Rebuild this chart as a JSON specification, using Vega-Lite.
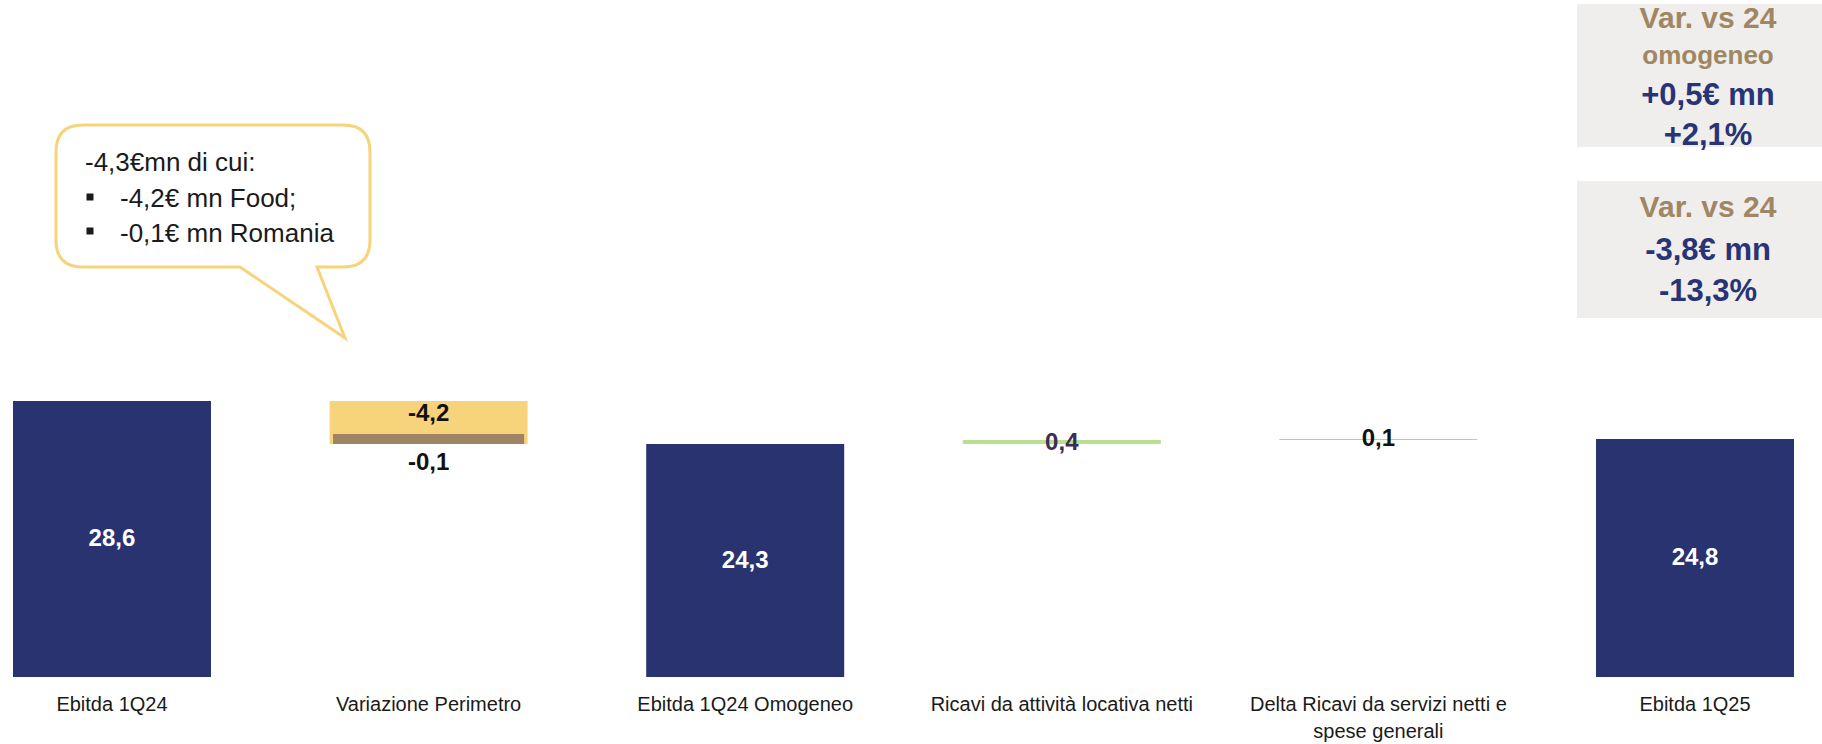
{
  "$schema": "https://vega.github.io/schema/vega-lite/v6.json",
  "width": 1807,
  "height": 677,
  "autosize": {"type": "none"},
  "padding": {"left": 0, "top": 0, "right": 15, "bottom": 67},
  "background": "#ffffff",
  "config": {"view": {"stroke": null}, "font": "Liberation Sans"},
  "datasets": {
    "bars": [
      {"cat": "Ebitda 1Q24", "start": 0, "end": 28.6, "kind": "totale", "label": "28,6"},
      {"cat": "Variazione Perimetro", "start": 28.6, "end": 24.3, "kind": "perimetro", "label": "-4,2"},
      {"cat": "Ebitda 1Q24 Omogeneo", "start": 0, "end": 24.3, "kind": "totale", "label": "24,3"},
      {"cat": "Ricavi da attività locativa netti", "start": 24.3, "end": 24.7, "kind": "locativa", "label": "0,4"},
      {"cat": "Delta Ricavi da servizi netti e spese generali", "start": 24.7, "end": 24.8, "kind": "servizi", "label": "0,1"},
      {"cat": "Ebitda 1Q25", "start": 0, "end": 24.8, "kind": "totale", "label": "24,8"}
    ],
    "romania": [
      {"cat": "Variazione Perimetro", "start": 24.3, "end": 25.3, "kind": "romania"}
    ],
    "one": [{}]
  },
  "layer": [
    {
      "data": {"name": "one"},
      "mark": {"type": "bar", "width": 245, "xOffset": 4.5, "color": "#EFEEEC"},
      "encoding": {
        "x": {"datum": "Ebitda 1Q25", "type": "nominal"},
        "y": {"datum": 68.3, "type": "quantitative", "axis": null},
        "y2": {"datum": 54.0}
      }
    },
    {
      "data": {"name": "one"},
      "mark": {"type": "bar", "width": 245, "xOffset": 4.5, "color": "#EFEEEC"},
      "encoding": {
        "x": {"datum": "Ebitda 1Q25", "type": "nominal"},
        "y": {"datum": 50.6, "type": "quantitative", "axis": null},
        "y2": {"datum": 36.9}
      }
    },
    {
      "data": {"name": "bars"},
      "mark": {"type": "bar"},
      "encoding": {
        "x": {
          "field": "cat", "type": "nominal", "sort": null, "title": null,
          "scale": {
            "domain": ["Ebitda 1Q24", "Variazione Perimetro", "Ebitda 1Q24 Omogeneo", "Ricavi da attività locativa netti", "Delta Ricavi da servizi netti e spese generali", "Ebitda 1Q25"],
            "paddingInner": 0.3746, "paddingOuter": 0.041
          },
          "axis": {
            "title": null, "domain": false, "ticks": false, "tickSize": 0, "grid": false,
            "bandPosition": 0.5, "labelAlign": "center", "labelBaseline": "top",
            "labelPadding": 17, "labelFontSize": 20, "labelColor": "#1a1a1a", "labelFont": "Liberation Sans",
            "labelAngle": 0, "labelLimit": 500, "labelLineHeight": 27, "labelOverlap": false,
            "labelExpr": "datum.value == 'Delta Ricavi da servizi netti e spese generali' ? ['Delta Ricavi da servizi netti e', 'spese generali'] : datum.label"
          }
        },
        "y": {"field": "end", "type": "quantitative", "scale": {"domain": [1, 68.7], "clamp": true, "nice": false, "zero": false}, "axis": null},
        "y2": {"field": "start"},
        "color": {
          "field": "kind", "type": "nominal", "legend": null,
          "scale": {"domain": ["totale", "perimetro", "locativa", "servizi", "romania"], "range": ["#283370", "#F7D37B", "#B8E090", "#A9D98B", "#9E8462"]}
        }
      }
    },
    {
      "data": {"name": "romania"},
      "mark": {"type": "bar", "width": {"band": 0.965}},
      "encoding": {
        "x": {"field": "cat", "type": "nominal", "title": null},
        "y": {"field": "end", "type": "quantitative", "axis": null},
        "y2": {"field": "start"},
        "color": {"field": "kind", "type": "nominal", "legend": null}
      }
    },
    {
      "data": {"name": "bars"},
      "transform": [
        {"filter": "datum.kind == 'totale'"},
        {"calculate": "(datum.end + 1) / 2", "as": "mid"}
      ],
      "mark": {"type": "text", "color": "#ffffff", "fontWeight": "bold", "fontSize": 24, "baseline": "middle", "align": "center"},
      "encoding": {
        "x": {"field": "cat", "type": "nominal", "title": null},
        "y": {"field": "mid", "type": "quantitative", "axis": null},
        "text": {"field": "label"}
      }
    },
    {
      "data": {"name": "one"},
      "mark": {"type": "text", "text": "-4,2", "color": "#111111", "fontWeight": "bold", "fontSize": 24, "baseline": "middle", "align": "center"},
      "encoding": {
        "x": {"datum": "Variazione Perimetro", "type": "nominal"},
        "y": {"datum": 27.3, "type": "quantitative", "axis": null}
      }
    },
    {
      "data": {"name": "one"},
      "mark": {"type": "text", "text": "-0,1", "color": "#111111", "fontWeight": "bold", "fontSize": 24, "baseline": "middle", "align": "center"},
      "encoding": {
        "x": {"datum": "Variazione Perimetro", "type": "nominal"},
        "y": {"datum": 22.45, "type": "quantitative", "axis": null}
      }
    },
    {
      "data": {"name": "one"},
      "mark": {"type": "text", "text": "0,4", "color": "#3B2D55", "fontWeight": "bold", "fontSize": 24, "baseline": "middle", "align": "center"},
      "encoding": {
        "x": {"datum": "Ricavi da attività locativa netti", "type": "nominal"},
        "y": {"datum": 24.45, "type": "quantitative", "axis": null}
      }
    },
    {
      "data": {"name": "one"},
      "mark": {"type": "text", "text": "0,1", "color": "#111111", "fontWeight": "bold", "fontSize": 24, "baseline": "middle", "align": "center"},
      "encoding": {
        "x": {"datum": "Delta Ricavi da servizi netti e spese generali", "type": "nominal"},
        "y": {"datum": 24.8, "type": "quantitative", "axis": null}
      }
    },
    {
      "data": {"name": "one"},
      "mark": {
        "type": "point", "filled": true, "opacity": 1, "fill": "#ffffff", "fillOpacity": 1,
        "stroke": "#F7D37B", "strokeWidth": 3, "size": 4,
        "shape": "M -29 -62 L 231 -62 Q 258 -62 258 -35 L 258 53 Q 258 80 231 80 L 205 80 L 233 151 L 128 80 L -29 80 Q -56 80 -56 53 L -56 -35 Q -56 -62 -29 -62 Z"
      },
      "encoding": {
        "x": {"datum": "Ebitda 1Q24", "type": "nominal"},
        "y": {"datum": 50, "type": "quantitative", "axis": null}
      }
    },
    {
      "data": {"name": "one"},
      "mark": {"type": "text", "text": "-4,3€mn di cui:", "color": "#1a1a1a", "fontSize": 26, "baseline": "middle", "align": "left", "xOffset": -27},
      "encoding": {
        "x": {"datum": "Ebitda 1Q24", "type": "nominal"},
        "y": {"datum": 52.4, "type": "quantitative", "axis": null}
      }
    },
    {
      "data": {"name": "one"},
      "mark": {"type": "text", "text": "-4,2€ mn Food;", "color": "#1a1a1a", "fontSize": 26, "baseline": "middle", "align": "left", "xOffset": 8},
      "encoding": {
        "x": {"datum": "Ebitda 1Q24", "type": "nominal"},
        "y": {"datum": 48.8, "type": "quantitative", "axis": null}
      }
    },
    {
      "data": {"name": "one"},
      "mark": {"type": "text", "text": "-0,1€ mn Romania", "color": "#1a1a1a", "fontSize": 26, "baseline": "middle", "align": "left", "xOffset": 8},
      "encoding": {
        "x": {"datum": "Ebitda 1Q24", "type": "nominal"},
        "y": {"datum": 45.35, "type": "quantitative", "axis": null}
      }
    },
    {
      "data": {"name": "one"},
      "mark": {"type": "point", "shape": "square", "filled": true, "opacity": 1, "color": "#1a1a1a", "size": 49, "xOffset": -22},
      "encoding": {
        "x": {"datum": "Ebitda 1Q24", "type": "nominal"},
        "y": {"datum": 49.0, "type": "quantitative", "axis": null}
      }
    },
    {
      "data": {"name": "one"},
      "mark": {"type": "point", "shape": "square", "filled": true, "opacity": 1, "color": "#1a1a1a", "size": 49, "xOffset": -22},
      "encoding": {
        "x": {"datum": "Ebitda 1Q24", "type": "nominal"},
        "y": {"datum": 45.6, "type": "quantitative", "axis": null}
      }
    },
    {
      "data": {"name": "one"},
      "mark": {"type": "text", "text": "Var. vs 24", "color": "#A08763", "fontWeight": "bold", "fontSize": 30, "baseline": "middle", "align": "center", "xOffset": 13},
      "encoding": {
        "x": {"datum": "Ebitda 1Q25", "type": "nominal"},
        "y": {"datum": 66.8, "type": "quantitative", "axis": null}
      }
    },
    {
      "data": {"name": "one"},
      "mark": {"type": "text", "text": "omogeneo", "color": "#A08763", "fontWeight": "bold", "fontSize": 26, "baseline": "middle", "align": "center", "xOffset": 13},
      "encoding": {
        "x": {"datum": "Ebitda 1Q25", "type": "nominal"},
        "y": {"datum": 63.1, "type": "quantitative", "axis": null}
      }
    },
    {
      "data": {"name": "one"},
      "mark": {"type": "text", "text": "+0,5€ mn", "color": "#283475", "fontWeight": "bold", "fontSize": 31, "baseline": "middle", "align": "center", "xOffset": 13},
      "encoding": {
        "x": {"datum": "Ebitda 1Q25", "type": "nominal"},
        "y": {"datum": 59.1, "type": "quantitative", "axis": null}
      }
    },
    {
      "data": {"name": "one"},
      "mark": {"type": "text", "text": "+2,1%", "color": "#283475", "fontWeight": "bold", "fontSize": 31, "baseline": "middle", "align": "center", "xOffset": 13},
      "encoding": {
        "x": {"datum": "Ebitda 1Q25", "type": "nominal"},
        "y": {"datum": 55.1, "type": "quantitative", "axis": null}
      }
    },
    {
      "data": {"name": "one"},
      "mark": {"type": "text", "text": "Var. vs 24", "color": "#A08763", "fontWeight": "bold", "fontSize": 30, "baseline": "middle", "align": "center", "xOffset": 13},
      "encoding": {
        "x": {"datum": "Ebitda 1Q25", "type": "nominal"},
        "y": {"datum": 47.95, "type": "quantitative", "axis": null}
      }
    },
    {
      "data": {"name": "one"},
      "mark": {"type": "text", "text": "-3,8€ mn", "color": "#283475", "fontWeight": "bold", "fontSize": 31, "baseline": "middle", "align": "center", "xOffset": 13},
      "encoding": {
        "x": {"datum": "Ebitda 1Q25", "type": "nominal"},
        "y": {"datum": 43.6, "type": "quantitative", "axis": null}
      }
    },
    {
      "data": {"name": "one"},
      "mark": {"type": "text", "text": "-13,3%", "color": "#283475", "fontWeight": "bold", "fontSize": 31, "baseline": "middle", "align": "center", "xOffset": 13},
      "encoding": {
        "x": {"datum": "Ebitda 1Q25", "type": "nominal"},
        "y": {"datum": 39.55, "type": "quantitative", "axis": null}
      }
    }
  ]
}
